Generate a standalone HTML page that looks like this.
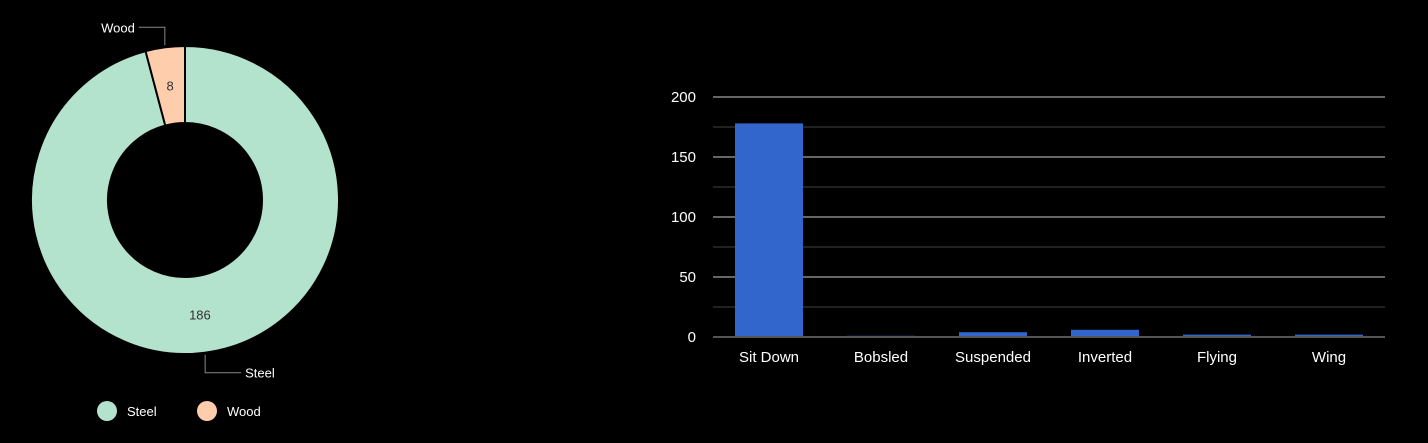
<!DOCTYPE html>
<html><head><meta charset="utf-8"><style>
body{margin:0;background:#000;width:1428px;height:438px;overflow:hidden;font-family:"Liberation Sans",sans-serif}
</style></head><body>
<svg width="1428" height="438">
<g id="pie"></g>
<g id="bar"></g>
</svg>
<script>
const pieLabels=["Steel","Wood"];
const pieValues=[186,8];
const pieColors=["#b3e2cd","#fdcdac"];
const barCats=["Sit Down","Bobsled","Suspended","Inverted","Flying","Wing"];
const barValues=[178,1,4,6,2,2];
const yTicks=[0,50,100,150,200];
const NS="http://www.w3.org/2000/svg";
function mk(p,t,a,txt){const e=document.createElementNS(NS,t);for(const k in a)e.setAttribute(k,a[k]);if(txt!==undefined)e.textContent=txt;p.appendChild(e);return e;}
// donut
const pie=document.getElementById('pie');
const cx=185,cy=200,R=154,r=77;
const tot=pieValues.reduce((a,b)=>a+b,0);
let ang=0;
pieValues.forEach((v,i)=>{
 const a0=ang,a1=ang+v/tot*2*Math.PI;ang=a1;
 const pt=(rad,a)=>[cx+rad*Math.sin(a),cy-rad*Math.cos(a)];
 const [x0,y0]=pt(R,a0),[x1,y1]=pt(R,a1),[x2,y2]=pt(r,a1),[x3,y3]=pt(r,a0);
 const lg=(a1-a0)>Math.PI?1:0;
 const p=mk(pie,'path',{d:`M${x0},${y0}A${R},${R} 0 ${lg} 1 ${x1},${y1}L${x2},${y2}A${r},${r} 0 ${lg} 0 ${x3},${y3}Z`,fill:pieColors[i],stroke:'#000','stroke-width':2});
 
 
 const am=(a0+a1)/2;const [lx,ly]=pt((R+r)/2,am);
 const t=mk(pie,'text',{x:lx,y:ly+5,'text-anchor':'middle','font-size':13,fill:'#333'},v);
 
 
 const [ox,oy]=pt(R+2,am);
 const right=Math.sin(am)>=0;
 const ey=oy+(Math.cos(am)>0?-18:18);
 const ex=right?ox+6:ox-6;
 mk(pie,'polyline',{points:`${ox},${oy} ${ox+(right?-2:2)},${ey} ${right?ex+30:ex-30},${ey}`.replace(`${ox+(right?-2:2)},${ey} ${right?ex+30:ex-30}`,`${ox},${ey} ${right?ox+36:ox-26}`),fill:'none',stroke:'#888'});
 const ll=mk(pie,'text',{x:right?ox+40:ox-30,y:ey+5,'text-anchor':right?'start':'end','font-size':13,fill:'#fff'},pieLabels[i]);
 
 
});
pieLabels.forEach((l,i)=>{
 const x=107+i*100;
 const c=mk(pie,'circle',{cx:x,cy:411,r:10,fill:pieColors[i]});
 
 
 const t=mk(pie,'text',{x:x+20,y:416,'font-size':13,fill:'#fff'},l);
 
 
});
// bars
const bar=document.getElementById('bar');
const X0=713,X1=1385,Y0=337,YMAX=200,H=240;
const y=v=>Y0-v/YMAX*H;
const band=(X1-X0)/barCats.length;
for(let v=25;v<=200;v+=25){
 const major=v%50===0;
 const g=mk(bar,'line',{x1:X0,x2:X1,y1:y(v),y2:y(v),stroke:major?'#ccc':'#444','stroke-width':1});
 
 
}
yTicks.forEach(v=>{
 const t=mk(bar,'text',{x:696,y:y(v)+5,'text-anchor':'end','font-size':15,fill:'#fff'},v);
 
 
});
barCats.forEach((c,i)=>{
 const bx=X0+band*i+(band-68)/2;
 const b=mk(bar,'rect',{x:bx,y:y(barValues[i]),width:68,height:Y0-y(barValues[i]),fill:'#3366cc'});
 
 
 const t=mk(bar,'text',{x:X0+band*i+band/2,y:362,'text-anchor':'middle','font-size':15,fill:'#fff'},c);
 
 
});
const ax=mk(bar,'line',{x1:X0,x2:X1,y1:Y0,y2:Y0,stroke:'#555','stroke-width':2});


</script>
</body></html>
